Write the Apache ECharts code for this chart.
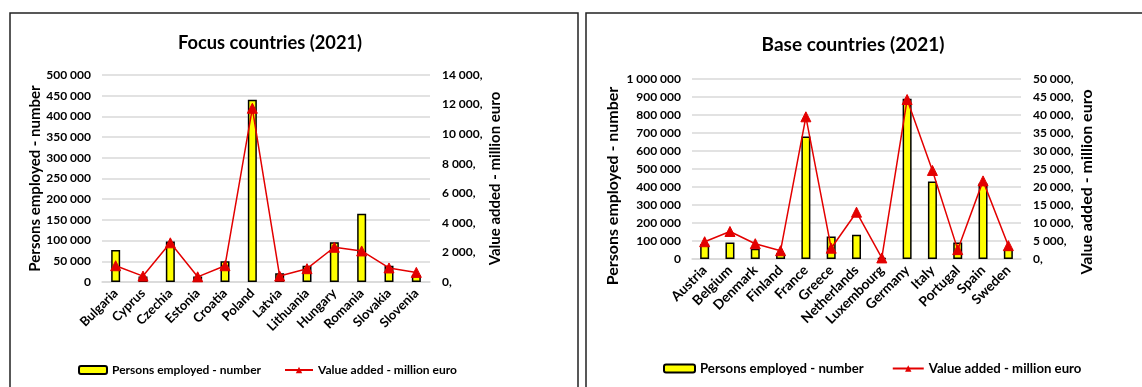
<!DOCTYPE html>
<html>
<head>
<meta charset="utf-8">
<script src="https://cdn.jsdelivr.net/npm/echarts@6/dist/echarts.min.js"></script>
<style>
  html, body { margin: 0; padding: 0; background: #fff; }
  #chart { width: 1142px; height: 387px; }
</style>
</head>
<body>
<div id="chart"></div>
<script>
// Focus countries (2021)
const focusCountries = ['Bulgaria', 'Cyprus', 'Czechia', 'Estonia', 'Croatia', 'Poland', 'Latvia', 'Lithuania', 'Hungary', 'Romania', 'Slovakia', 'Slovenia'];
const focusEmployed = [77000, 13000, 98000, 13000, 50000, 440000, 21000, 39000, 96000, 165000, 39000, 17000];
const focusValueAdded = [1100, 400, 2650, 350, 1100, 11750, 400, 900, 2350, 2100, 950, 650];

// Base countries (2021)
const baseCountries = ['Austria', 'Belgium', 'Denmark', 'Finland', 'France', 'Greece', 'Netherlands', 'Luxembourg', 'Germany', 'Italy', 'Portugal', 'Spain', 'Sweden'];
const baseEmployed = [83000, 92000, 57000, 33000, 680000, 125000, 135000, 5000, 890000, 430000, 92000, 420000, 55000];
const baseValueAdded = [4800, 7650, 4250, 2300, 39500, 3000, 13000, 300, 44300, 24600, 2600, 21700, 3700];

const seriesNames = ['Persons employed - number', 'Value added - million euro'];
const axisNames = ['Persons employed - number', 'Value added - million euro'];

const FONT = 'Lato, "Open Sans", sans-serif';
const BLACK = '#000';
const GRID_COLOR = '#d9d9d9';
const RED = '#e30000';

function spaced(v) {
  return String(v).replace(/\B(?=(\d{3})+(?!\d))/g, ' ');
}
function withComma(v) {
  return spaced(v) + ',';
}

const chart = echarts.init(document.getElementById('chart'), null, { renderer: 'canvas' });

function xAxisFor(gridIndex, cats, fontSize) {
  return {
    type: 'category',
    gridIndex: gridIndex,
    data: cats,
    axisTick: { show: false },
    axisLine: { show: true, lineStyle: { color: GRID_COLOR, width: 1.5 } },
    axisLabel: {
      rotate: 45, margin: 9, interval: 0,
      color: BLACK, fontFamily: FONT, fontSize: fontSize, fontWeight: 'bold'
    }
  };
}

// names on rotated axes can be nudged down the panel with right padding
function leftAxis(gridIndex, max, interval, nameGap, nameSize, nameShift) {
  return {
    type: 'value', gridIndex: gridIndex, position: 'left',
    min: 0, max: max, interval: interval,
    name: axisNames[0], nameLocation: 'middle', nameRotate: 90, nameGap: nameGap,
    nameTextStyle: { color: BLACK, fontFamily: FONT, fontSize: nameSize, fontWeight: 'bold',
      padding: [0, nameShift * 2, 0, 0] },
    axisLine: { show: false }, axisTick: { show: false },
    axisLabel: { margin: 11, color: BLACK, fontFamily: FONT, fontSize: 12, fontWeight: 'bold', formatter: spaced },
    splitLine: { show: true, lineStyle: { color: GRID_COLOR, width: 1.5 } }
  };
}

function rightAxis(gridIndex, max, interval, nameGap, nameSize, nameShift) {
  return {
    type: 'value', gridIndex: gridIndex, position: 'right',
    min: 0, max: max, interval: interval,
    name: axisNames[1], nameLocation: 'middle', nameRotate: 90, nameGap: nameGap,
    nameTextStyle: { color: BLACK, fontFamily: FONT, fontSize: nameSize, fontWeight: 'bold',
      padding: [0, nameShift * 2, 0, 0] },
    axisLine: { show: false }, axisTick: { show: false },
    axisLabel: { margin: 12, color: BLACK, fontFamily: FONT, fontSize: 12, fontWeight: 'bold', formatter: withComma },
    splitLine: { show: false }
  };
}

function barSeries(xi, yi, data) {
  return {
    name: seriesNames[0], type: 'bar', xAxisIndex: xi, yAxisIndex: yi,
    data: data, barWidth: 9,
    itemStyle: { color: '#ffff00', borderColor: '#000', borderWidth: 1.5 }
  };
}

function lineSeries(xi, yi, data) {
  return {
    name: seriesNames[1], type: 'line', xAxisIndex: xi, yAxisIndex: yi,
    data: data, symbol: 'triangle', symbolSize: 10, z: 5,
    lineStyle: { color: RED, width: 1.5 },
    itemStyle: { color: RED, borderColor: RED }
  };
}

chart.setOption({
  animation: false,
  backgroundColor: '#fff',
  title: [
    { text: 'Focus countries (2021)', left: 265, top: 29, textAlign: 'center',
      textStyle: { color: BLACK, fontFamily: FONT, fontSize: 18.3, fontWeight: 'bold' } },
    { text: 'Base countries (2021)', left: 848, top: 30, textAlign: 'center',
      textStyle: { color: BLACK, fontFamily: FONT, fontSize: 19, fontWeight: 'bold' } }
  ],
  graphic: [
    { type: 'rect', shape: { x: 10, y: 13, width: 568, height: 400 },
      style: { fill: 'none', stroke: '#222', lineWidth: 1.5 }, silent: true },
    { type: 'rect', shape: { x: 586, y: 13, width: 600, height: 400 },
      style: { fill: 'none', stroke: '#222', lineWidth: 1.5 }, silent: true }
  ],
  legend: [
    { data: seriesNames, left: 73, top: 359, itemWidth: 28, itemHeight: 8, itemGap: 23,
      textStyle: { color: BLACK, fontFamily: FONT, fontSize: 12, fontWeight: 'bold' } },
    { data: seriesNames, left: 658, top: 357, itemWidth: 31, itemHeight: 8, itemGap: 28,
      textStyle: { color: BLACK, fontFamily: FONT, fontSize: 13.2, fontWeight: 'bold' } }
  ],
  grid: [
    { left: 102, top: 75, width: 328, height: 207 },
    { left: 692, top: 79, width: 329, height: 180 }
  ],
  xAxis: [
    xAxisFor(0, focusCountries, 13),
    xAxisFor(1, baseCountries, 13.7)
  ],
  yAxis: [
    leftAxis(0, 500000, 50000, 58, 15, 0),
    rightAxis(0, 14000, 2000, 58, 15, 0),
    leftAxis(1, 1000000, 100000, 71, 16, 17),
    rightAxis(1, 50000, 5000, 58, 16, 13)
  ],
  series: [
    barSeries(0, 0, focusEmployed),
    lineSeries(0, 1, focusValueAdded),
    barSeries(1, 2, baseEmployed),
    lineSeries(1, 3, baseValueAdded)
  ]
});
</script>
</body>
</html>
